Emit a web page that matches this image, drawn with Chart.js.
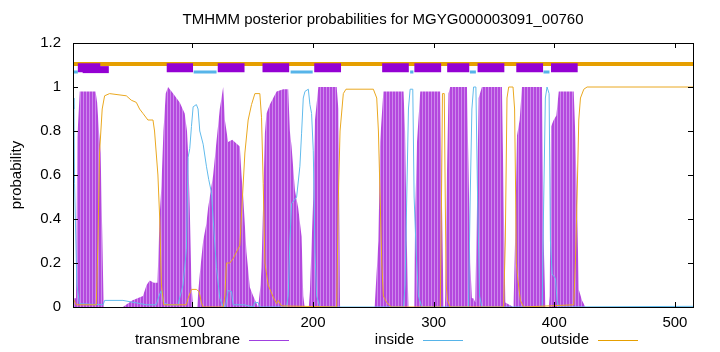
<!DOCTYPE html>
<html lang="en">
<head>
  <meta charset="UTF-8" />
  <title>TMHMM posterior probabilities</title>
  <script src="https://cdn.jsdelivr.net/npm/chart.js"></script>
  <style>
    html, body { margin: 0; padding: 0; background: #fff; }
    #tmhmm { display: block; }
  </style>
</head>
<body>
  <canvas id="tmhmm" width="720" height="352"></canvas>

  <script>
    const chartTitle = 'TMHMM posterior probabilities for MGYG000003091_00760';
    const yAxisTitle = 'probability';
    const xTicks = [100, 200, 300, 400, 500];
    const yTicks = [0, 0.2, 0.4, 0.6, 0.8, 1, 1.2];
    const seqLength = 515;

    const tmRes = [1, 3.5, 4.2, 4.6, 6.6, 19.7, 21, 22.5, 23.9, 25.2, 26.4, 42.4, 50, 59, 62, 64.6, 68, 71, 72.9, 74.3, 76,
      77.9, 79.8, 84, 89.5, 93.6, 95.5, 96.4, 97.8, 99.2, 100.6, 104, 105, 106.1, 108.9, 111.6, 113, 117.2, 119.9, 122.7,
      125.5, 126.9, 129.6, 133, 139.3, 140.7, 142.1, 144.8, 147.6, 150.4, 154.5, 156.5, 157.3, 160.1, 161.4, 164.2, 167,
      169.8, 175.3, 179.4, 180.8, 182.2, 185, 187.7, 190.5, 191.9, 193, 196.5, 197.4, 200.2, 201.6, 204.4, 219.6, 221,
      222.4, 251, 251.4, 254.2, 255.6, 258.3, 275, 276.3, 277.7, 279.1, 284, 284.6, 286.2, 288.9, 305.4, 306.8, 308.2,
      309.3, 309.6, 311, 312.3, 313.7, 327.6, 329, 330.3, 331.7, 333, 334.5, 335.9, 337.3, 340, 356.6, 358, 359.4, 366,
      366.3, 367.7, 369.1, 371.3, 373.2, 389.8, 391.2, 392.6, 395.5, 396.2, 397.3, 399.5, 401.7, 403.7, 416.1, 417.5,
      418.9, 420.3, 423, 425.8, 515];
    const tmProb = [0.04, 0.04, 0.04, 0.77, 0.98, 0.98, 0.93, 0.8, 0.7, 0.35, 0, 0, 0.03, 0.05, 0.1, 0.12, 0.11, 0.11, 0.42, 0.55, 0.8,
      0.97, 1.0, 0.97, 0.93, 0.88, 0.8, 0.7, 0.45, 0.1, 0, 0, 0.08, 0.15, 0.3, 0.38, 0.45, 0.6, 0.75, 0.9,
      1.0, 0.85, 0.75, 0.76, 0.73, 0.6, 0.5, 0.25, 0.09, 0.05, 0, 0.1, 0.18, 0.79, 0.88, 0.92, 0.95,
      0.98, 0.99, 0.99, 0.8, 0.73, 0.53, 0.45, 0.32, 0.05, 0, 0, 0.07, 0.5, 0.85, 1.0, 1.0, 0.9,
      0, 0, 0.03, 0.3, 0.75, 0.98, 0.98, 0.8, 0.3, 0, 0, 0.4, 0.75, 0.98, 0.98, 0.5, 0,
      0, 0.05, 0.6, 0.97, 1.0, 1.0, 0.6, 0.2, 0.04, 0.04, 0.02, 0.45, 0.95, 1.0, 1.0, 0.5, 0.02, 0,
      0.02, 0.35, 0.78, 0.85, 1.0, 1.0, 0.3, 0, 0, 0.05, 0.82, 0.85, 0.87, 0.98, 0.98, 0.77,
      0.45, 0.08, 0.03, 0, 0];

    // inside posterior
    const inRes = [1, 1.8, 2.3, 4.2, 6.4, 26, 27.2, 42.4, 57, 62, 70, 72.9, 74.3, 76, 80, 88, 92.2, 95, 96.4, 97.8, 99.2,
      100.6, 103.3, 104.7, 106.1, 108.9, 111.6, 113.5, 115.8, 117.2, 119.9, 122.7, 125.5, 127.5, 129.6, 132.4, 133.8,
      143, 150.4, 151.5, 154.5, 156, 178, 179.4, 180.8, 182.2, 185, 186.4, 189.1, 190.5, 191.9, 193.3, 196.1, 197.4,
      198.8, 200.2, 201.6, 203, 205.7, 275, 276.3, 277.7, 279.1, 280.5, 282.7, 283.8, 285.5, 287.4, 290.2, 328.9,
      330.3, 331.7, 333.1, 335, 336.4, 338.1, 340, 390, 390.7, 392.6, 394, 395.7, 396.8, 398.2, 401, 402.3, 403.7, 515];
    const inProb = [0.95, 0.9, 0.56, 0.1, 0.015, 0.01, 0.03, 0.03, 0.015, 0.01, 0.01, 0.06, 0.075, 0.02, 0.01, 0.01, 0.1, 0.26, 0.68, 0.72, 0.82,
      0.91, 0.92, 0.9, 0.8, 0.74, 0.64, 0.58, 0.52, 0.4, 0.18, 0.04, 0, 0, 0.075, 0.07, 0.01,
      0.01, 0, 0.02, 0.02, 0, 0, 0.05, 0.3, 0.47, 0.49, 0.5, 0.64, 0.79, 0.95, 0.98, 0.99, 0.92,
      0.88, 0.71, 0.25, 0.05, 0, 0, 0.1, 0.5, 0.9, 0.99, 0.99, 0.5, 0.25, 0.05, 0, 0,
      0.5, 0.9, 1.0, 1.0, 0.5, 0.05, 0, 0, 0.3, 0.95, 1.0, 0.97, 0.3, 0.15, 0.13, 0.03, 0, 0.003];

    // outside posterior
    const outRes = [1, 3.7, 20.3, 21.7, 23, 25.2, 27.2, 31.3, 45.2, 49.3, 53.5, 56.2, 59, 63.1, 67.3, 68.6, 70, 71.4, 72.9,
      74.3, 76.2, 95, 96.4, 99.2, 103.3, 105.5, 107.5, 108.9, 125.5, 126.9, 128.2, 131, 133.8, 136.5, 139.3, 141.5,
      143.5, 146.2, 149, 151.8, 155.9, 157.3, 158.7, 160.1, 162.8, 167, 169.8, 171.1, 173.9, 219.6, 221, 222.4, 225.1,
      227.3, 250, 252.8, 254.2, 255.6, 257, 258.3, 261.1, 265, 305.5, 306.5, 307.3, 308.8, 309.6, 310.4, 311.5, 313.7,
      358, 359.4, 360.8, 362.2, 365.8, 367.1, 368, 368.5, 369.9, 371.9, 374.6, 416.1, 417.5, 418.9, 420.3, 421.7,
      424.5, 427.2, 515];
    const outProb = [0.04, 0.01, 0.01, 0.3, 0.7, 0.9, 0.96, 0.97, 0.96, 0.94, 0.93, 0.9, 0.88, 0.85, 0.85, 0.8, 0.7, 0.6, 0.4,
      0.1, 0.01, 0.01, 0.04, 0.08, 0.08, 0.07, 0.02, 0, 0, 0.05, 0.2, 0.2, 0.22, 0.25, 0.28, 0.5,
      0.7, 0.85, 0.92, 0.97, 0.97, 0.86, 0.56, 0.2, 0.1, 0.045, 0.015, 0.03, 0.005, 0, 0.5, 0.8, 0.97,
      0.99, 0.99, 0.95, 0.8, 0.5, 0.2, 0.05, 0.02, 0, 0, 0.5, 0.97, 0.97, 0.5, 0.1, 0.03, 0,
      0, 0.3, 0.95, 1.0, 1.0, 0.9, 0.5, 0.2, 0.12, 0.03, 0, 0.01, 0.2, 0.5, 0.85, 0.95,
      0.99, 1.0, 1.0];

    // predicted topology (residue ranges)
    const outsideSegments = [[1, 515]];
    const insideSegments = [[1, 5], [101, 120], [181.4, 199.7], [280.5, 283.2], [330, 335], [391, 396]];
    const tmSegmentsLow = [[9, 30.7]];
    const tmSegments = [[5, 23.6], [78.7, 100.5], [121, 143.2], [158.1, 180.2], [201, 223.2], [257.3, 279.4],
      [284, 306.2], [311.2, 329.5], [336.4, 358.6], [368.5, 390.7], [397.3, 419.4]];
    const outsideLevel = 1.105;
    const insideLevel = 1.068;
    const tmLevel = 1.087;
    const tmLowLevel = 1.079;

    const legendLabels = ['transmembrane', 'inside', 'outside'];

    function toPoints(xs, ys) {
      return xs.map((x, i) => ({ x: x, y: ys[i] }));
    }

    function toSegments(list, level) {
      const pts = [];
      list.forEach(([a, b]) => {
        pts.push({ x: a, y: level }, { x: b, y: level }, { x: b, y: null });
      });
      return pts;
    }

    // striped fill, looks like the gnuplot impulses
    function stripePattern(ctx) {
      const c = document.createElement('canvas');
      c.width = 3; c.height = 4;
      const g = c.getContext('2d');
      g.fillStyle = '#b448de'; g.fillRect(0, 0, 2, 4);
      g.fillStyle = '#cd88ec'; g.fillRect(2, 0, 1, 4);
      return ctx.createPattern(c, 'repeat');
    }

    const font = '"Liberation Sans", Arial, sans-serif';

    const decorations = {
      id: 'decorations',
      afterDatasetsDraw(chart) {
        const { ctx, chartArea: a, scales } = chart;
        ctx.save();
        ctx.strokeStyle = '#000';
        ctx.lineWidth = 1;
        ctx.beginPath();
        xTicks.forEach(v => {
          const x = Math.round(scales.x.getPixelForValue(v)) + 0.5;
          ctx.moveTo(x, a.bottom); ctx.lineTo(x, a.bottom - 5);
          ctx.moveTo(x, a.top); ctx.lineTo(x, a.top + 5);
        });
        yTicks.forEach(v => {
          const y = Math.round(scales.y.getPixelForValue(v)) + 0.5;
          ctx.moveTo(a.left, y); ctx.lineTo(a.left + 5, y);
          ctx.moveTo(a.right, y); ctx.lineTo(a.right - 5, y);
        });
        ctx.stroke();
        ctx.strokeRect(Math.round(a.left) + 0.5, Math.round(a.top) + 0.5,
          Math.round(a.right - a.left), Math.round(a.bottom - a.top));
        ctx.restore();
      },
      afterDraw(chart) {
        const { ctx, chartArea: a } = chart;
        ctx.save();
        ctx.fillStyle = '#000';
        ctx.font = '15px ' + font;
        ctx.textAlign = 'center';
        ctx.textBaseline = 'middle';
        ctx.fillText(chartTitle, (a.left + a.right) / 2, 20);

        ctx.save();
        ctx.translate(17, (a.top + a.bottom) / 2);
        ctx.rotate(-Math.PI / 2);
        ctx.fillText(yAxisTitle, 0, 0);
        ctx.restore();

        // key below the plot: text right-aligned, then a sample line
        const keyY = 340;
        const keyEnds = [240, 414, 589];
        const keyColors = ['#a040e0', '#56b4e9', '#e69f00'];
        ctx.textAlign = 'right';
        legendLabels.forEach((lab, i) => {
          ctx.fillText(lab, keyEnds[i], keyY);
          ctx.strokeStyle = keyColors[i];
          ctx.lineWidth = 1;
          ctx.beginPath();
          ctx.moveTo(keyEnds[i] + 9, keyY + 0.5);
          ctx.lineTo(keyEnds[i] + 49, keyY + 0.5);
          ctx.stroke();
        });
        ctx.restore();
      }
    };

    const ctx = document.getElementById('tmhmm').getContext('2d');

    const chart = new Chart(ctx, {
      type: 'line',
      data: {
        datasets: [
          {
            label: 'tm box',
            data: toSegments(tmSegments, tmLevel),
            borderColor: '#9400d3',
            borderWidth: 9,
            borderCapStyle: 'butt',
            spanGaps: false,
            order: 0
          },
          {
            label: 'tm box low',
            data: toSegments(tmSegmentsLow, tmLowLevel),
            borderColor: '#9400d3',
            borderWidth: 7,
            borderCapStyle: 'butt',
            spanGaps: false,
            order: 1
          },
          {
            label: 'inside box',
            data: toSegments(insideSegments, insideLevel),
            borderColor: '#56b4e9',
            borderWidth: 3,
            borderCapStyle: 'butt',
            spanGaps: false,
            order: 2
          },
          {
            label: 'outside box',
            data: toSegments(outsideSegments, outsideLevel),
            borderColor: '#e69f00',
            borderWidth: 4,
            borderCapStyle: 'butt',
            spanGaps: false,
            order: 3
          },
          {
            label: 'outside',
            data: toPoints(outRes, outProb),
            borderColor: '#eaa820',
            borderWidth: 1,
            order: 4
          },
          {
            label: 'inside',
            data: toPoints(inRes, inProb),
            borderColor: '#62bbec',
            borderWidth: 1,
            order: 5
          },
          {
            label: 'transmembrane',
            data: toPoints(tmRes, tmProb),
            borderWidth: 0,
            borderColor: 'rgba(0,0,0,0)',
            backgroundColor: stripePattern(ctx),
            fill: 'origin',
            order: 6
          }
        ]
      },
      options: {
        responsive: false,
        animation: false,
        layout: { padding: { top: 43, right: 27, bottom: 0, left: 0 } },
        elements: {
          point: { radius: 0, hoverRadius: 0 },
          line: { tension: 0 }
        },
        plugins: {
          legend: { display: false },
          tooltip: { enabled: false }
        },
        scales: {
          x: {
            type: 'linear',
            min: 1,
            max: seqLength,
            grid: { display: false, drawTicks: false },
            border: { display: false },
            afterBuildTicks: s => { s.ticks = xTicks.map(v => ({ value: v })); },
            afterFit: s => { s.height = 45; },
            ticks: {
              color: '#000',
              padding: 7,
              maxRotation: 0,
              font: { family: font, size: 15 }
            }
          },
          y: {
            min: 0,
            max: 1.2,
            grid: { display: false, drawTicks: false },
            border: { display: false },
            afterBuildTicks: s => { s.ticks = yTicks.map(v => ({ value: v })); },
            afterFit: s => { s.width = 73; },
            ticks: {
              color: '#000',
              padding: 12,
              font: { family: font, size: 15 },
              callback: v => String(Math.round(v * 10) / 10)
            }
          }
        }
      },
      plugins: [decorations]
    });
  </script>
</body>
</html>
